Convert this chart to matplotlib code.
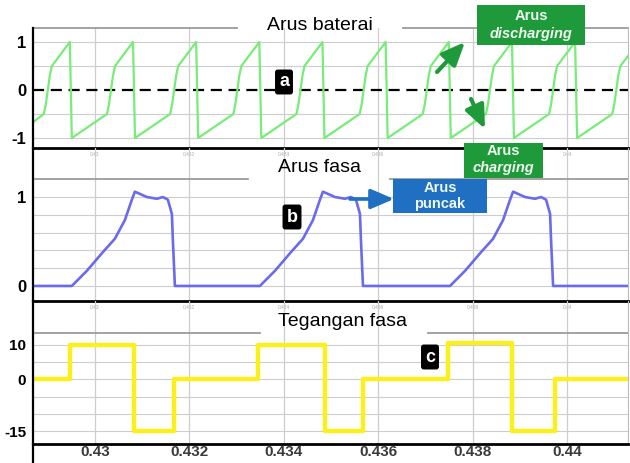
import matplotlib
matplotlib.use("Agg")
import matplotlib.pyplot as plt
from matplotlib.patches import Rectangle, FancyArrowPatch
from matplotlib.lines import Line2D

plt.rcParams['font.family'] = ['Liberation Sans', 'DejaVu Sans']

# ---- data ----
x_ticks = [0.430, 0.432, 0.434, 0.436, 0.438, 0.440]
x_labels = ['0.43', '0.432', '0.434', '0.436', '0.438', '0.44']

# battery current (a)
batt_t = [0.42869,
          0.428919, 0.428961, 0.429004, 0.429046, 0.429089, 0.429470, 0.429512,
          0.430257, 0.430299, 0.430342, 0.430384, 0.430427, 0.430808, 0.430850,
          0.431594, 0.431636, 0.431679, 0.431721, 0.431764, 0.432145, 0.432187,
          0.432932, 0.432974, 0.433017, 0.433059, 0.433102, 0.433483, 0.433525,
          0.434269, 0.434311, 0.434354, 0.434396, 0.434439, 0.434820, 0.434862,
          0.435607, 0.435649, 0.435692, 0.435734, 0.435777, 0.436158, 0.436200,
          0.436944, 0.436986, 0.437029, 0.437071, 0.437114, 0.437495, 0.437537,
          0.438282, 0.438324, 0.438367, 0.438409, 0.438452, 0.438833, 0.438875,
          0.439619, 0.439661, 0.439704, 0.439746, 0.439789, 0.440170, 0.440212,
          0.440957, 0.440999, 0.441042, 0.441084, 0.441127, 0.441300]
batt_i = [-0.67,
          -0.5, -0.3, 0.0, 0.3, 0.5, 1.0, -1.0,
          -0.5, -0.3, 0.0, 0.3, 0.5, 1.0, -1.0,
          -0.5, -0.3, 0.0, 0.3, 0.5, 1.0, -1.0,
          -0.5, -0.3, 0.0, 0.3, 0.5, 1.0, -1.0,
          -0.5, -0.3, 0.0, 0.3, 0.5, 1.0, -1.0,
          -0.5, -0.3, 0.0, 0.3, 0.5, 1.0, -1.0,
          -0.5, -0.3, 0.0, 0.3, 0.5, 1.0, -1.0,
          -0.5, -0.3, 0.0, 0.3, 0.5, 1.0, -1.0,
          -0.5, -0.3, 0.0, 0.3, 0.5, 1.0, -1.0,
          -0.5, -0.3, 0.0, 0.3, 0.5, 0.72]

# phase current (b)
phase_t = [0.42869,
           0.429512, 0.429830, 0.430169, 0.430423, 0.430635, 0.430784, 0.430847,
           0.431101, 0.431313, 0.431440, 0.431546, 0.431631, 0.431652, 0.431695,
           0.433495, 0.433813, 0.434152, 0.434406, 0.434618, 0.434767, 0.434830,
           0.435084, 0.435296, 0.435423, 0.435529, 0.435614, 0.435635, 0.435678,
           0.437521, 0.437839, 0.438178, 0.438432, 0.438644, 0.438793, 0.438856,
           0.439110, 0.439322, 0.439449, 0.439555, 0.439640, 0.439661, 0.439704,
           0.44129]
phase_i = [0.0,
           0.0, 0.17, 0.38, 0.53, 0.74, 0.97, 1.06, 1.0, 0.98, 1.0, 0.97, 0.81, 0.51, 0.0,
           0.0, 0.17, 0.38, 0.53, 0.74, 0.97, 1.06, 1.0, 0.98, 1.0, 0.97, 0.81, 0.51, 0.0,
           0.0, 0.17, 0.38, 0.53, 0.74, 0.97, 1.06, 1.0, 0.98, 1.0, 0.97, 0.81, 0.51, 0.0,
           0.0]

# phase voltage (c), step changes
volt_t = [0.42869, 0.42947, 0.43083, 0.43167, 0.43345, 0.43487,
          0.43568, 0.43748, 0.43884, 0.43975, 0.44129]
volt_v = [0, 10, -15, 0, 10, -15, 0, 10.5, -15, 0, 0]

W, H = 630, 463


def fx(x):
    return x / W


def fy(y):
    return 1 - y / H


fig = plt.figure(figsize=(6.3, 4.63), dpi=100)
L, R = 33, 628
ax_a = fig.add_axes([fx(L), fy(148), fx(R) - fx(L), fy(28) - fy(148)])
ax_b = fig.add_axes([fx(L), fy(301), fx(R) - fx(L), fy(148) - fy(301)])
ax_c = fig.add_axes([fx(L), fy(444), fx(R) - fx(L), fy(301) - fy(444)])

grid_c = '#cdcdcd'
top_c = '#9c9c9c'

for ax in (ax_a, ax_b, ax_c):
    ax.set_facecolor('none')
    ax.set_xlim(0.42869, 0.44129)
    ax.set_xticks(x_ticks)
    ax.grid(axis='x', color=grid_c, lw=0.9)
    ax.tick_params(length=0)
    ax.spines['top'].set_visible(False)
    ax.spines['right'].set_color('#bbbbbb')
    ax.spines['right'].set_linewidth(0.8)
    ax.spines['left'].set_linewidth(1.6)
    ax.spines['bottom'].set_linewidth(2.0)
    ax.set_axisbelow(True)

# panel a
ax_a.set_ylim(-1.208, 1.292)
for g in [-1, -0.5, 0.5, 1]:
    ax_a.axhline(g, color=grid_c, lw=0.8, zorder=0)
ax_a.axhline(1.292, 0, 0.343, color=top_c, lw=1.3, clip_on=False)
ax_a.axhline(1.292, 0.622, 1, color=top_c, lw=1.3, clip_on=False)
ax_a.axhline(0, color='black', ls=(0, (5, 3)), lw=1.6, zorder=1)
ax_a.plot(batt_t, batt_i, color='#78ec78', lw=1.6, zorder=2)
ax_a.set_yticks([-1, 0, 1])
ax_a.set_yticklabels(['-1', '0', '1'], fontsize=12, fontweight='bold')

# panel b
ax_b.set_ylim(-0.169, 1.551)
for g in [0, 0.2, 0.4, 0.6, 0.8, 1.0]:
    ax_b.axhline(g, color=grid_c, lw=0.8, zorder=0)
ax_b.axhline(1.2, 0, 0.361, color=top_c, lw=1.3)
ax_b.axhline(1.2, 0.6, 1, color=top_c, lw=1.3)
ax_b.plot(phase_t, phase_i, color='#6a6aee', lw=1.9, zorder=2)
ax_b.set_yticks([0, 1])
ax_b.set_yticklabels(['0', '1'], fontsize=12, fontweight='bold')

# panel c
ax_c.set_ylim(-18.7, 22.75)
for g in [-15, -10, -5, 0, 5, 10]:
    ax_c.axhline(g, color=grid_c, lw=0.8, zorder=0)
ax_c.axhline(13.5, 0, 0.3815, color=top_c, lw=1.3)
ax_c.axhline(13.5, 0.664, 1, color=top_c, lw=1.3)
ax_c.step(volt_t, volt_v, where='post', color='#fbf01c', lw=3.2, zorder=2)
ax_c.set_yticks([-15, 0, 10])
ax_c.set_yticklabels(['-15', '0', '10'], fontsize=11, fontweight='bold')

for ax in (ax_a, ax_b):
    ax.set_xticklabels(x_labels, fontsize=3.5, color='#aaaaaa')
    ax.tick_params(axis='x', pad=3)
ax_c.set_xticklabels(x_labels, fontsize=11, fontweight='bold', color='#3a3a3a')
ax_c.tick_params(axis='x', pad=1)
for ax in (ax_a, ax_b, ax_c):
    ax.tick_params(axis='y', pad=5)

fig.add_artist(Line2D([fx(L), fx(L)], [fy(444), fy(463)], color='black', lw=1.6))

# panel titles
fig.text(fx(320), fy(26), 'Arus baterai', fontsize=14, ha='center', va='center')
fig.text(fx(319), fy(167), 'Arus fasa', fontsize=14, ha='center', va='center')
fig.text(fx(343), fy(322), 'Tegangan fasa', fontsize=14, ha='center', va='center')

# letter tags
for lab, x, y in [('a', 284, 82), ('b', 292, 217), ('c', 430, 357)]:
    fig.text(fx(x), fy(y), lab, fontsize=13, fontweight='bold', color='white',
             ha='center', va='center',
             bbox=dict(boxstyle='round,pad=0.22,rounding_size=0.15', fc='black', ec='none'))

green = '#1f9a3b'
blue = '#1f6fc2'
txt_c = '#eef8ee'


def callout(x0, y0, x1, y1, color, word, y_word, y_word2):
    fig.add_artist(Rectangle((fx(x0), fy(y1)), fx(x1) - fx(x0), fy(y0) - fy(y1),
                             transform=fig.transFigure, fc=color, ec='none', zorder=5))
    xc = fx((x0 + x1) / 2)
    fig.text(xc, fy(y_word), 'Arus', fontsize=10.5, fontweight='bold', color=txt_c,
             ha='center', va='center', zorder=6)
    fig.text(xc, fy(y_word2), word, fontsize=10.5, fontweight='bold', color=txt_c,
             style='italic' if word != 'puncak' else 'normal',
             ha='center', va='center', zorder=6)


callout(477, 5, 585, 45, green, 'discharging', 16, 34)
callout(464, 143, 543, 178, green, 'charging', 151, 168)
callout(393, 179, 487, 213, blue, 'puncak', 188, 204)


def arrow(x0, y0, x1, y1, color, scale, lw):
    fig.add_artist(FancyArrowPatch((fx(x0), fy(y0)), (fx(x1), fy(y1)),
                                   transform=fig.transFigure, color=color, lw=lw,
                                   arrowstyle='-|>,head_length=1.4,head_width=0.6',
                                   mutation_scale=scale, zorder=6,
                                   shrinkA=0, shrinkB=0))


arrow(350, 199, 394, 199, blue, 10, 2.6)
arrow(437, 72, 465, 42, green, 10, 3.0)
arrow(471, 99, 485, 129, green, 10, 3.0)

fig.savefig('out.png', dpi=100)
